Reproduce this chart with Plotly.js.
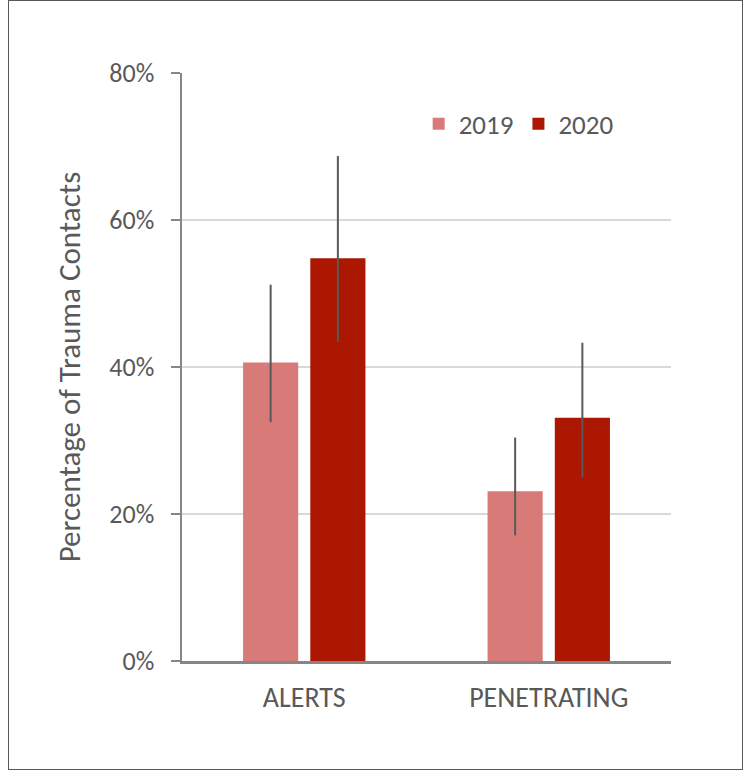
<!DOCTYPE html>
<html>
<head>
<meta charset="utf-8">
<script src="https://cdn.plot.ly/plotly-3.0.1.min.js"></script>
<style>
  body { margin: 0; background: #fff; }
  #frame { position: absolute; left: 8px; top: 0px; width: 733px; height: 768px; border: 1.5px solid #595959; }
  #chart { position: absolute; left: 0; top: 0; width: 750px; height: 772px; }
</style>
</head>
<body>
<div id="frame"></div>
<div id="chart"></div>
<script>
// categories and series (percent of trauma contacts)
let categories = ['ALERTS', 'PENETRATING'];
let years = ['2019', '2020'];

let val2019 = [40.6, 23.1];
let up2019 = [10.6, 7.3];
let down2019 = [8.1, 6.0];

let val2020 = [54.8, 33.1];
let up2020 = [13.9, 10.2];
let down2020 = [11.4, 8.1];

let colors = ['#D87B78', '#AB1700'];
let textColor = '#595959';
let fontFam = 'Calibri, Carlito, Lato, sans-serif';

let makeTrace = function(name, vals, up, down, color){
	return {
	  x: categories,
	  y: vals,
	  name: name,
	  type: 'bar',
	  marker: { color: color },
	  error_y: {
		type: 'data',
		symmetric: false,
		array: up,
		arrayminus: down,
		color: '#595959',
		thickness: 2,
		width: 0
	  },
	  hoverinfo: 'none'
	};
}

let data = [
	makeTrace(years[0], val2019, up2019, down2019, colors[0]),
	makeTrace(years[1], val2020, up2020, down2020, colors[1])
];

let layout = {
  width: 750,
  height: 772,
  margin: { l: 182, r: 79, t: 73, b: 111 },
  paper_bgcolor: 'rgba(0,0,0,0)',
  plot_bgcolor: 'rgba(0,0,0,0)',
  font: { family: fontFam, color: textColor, size: 26 },
  barmode: 'group',
  bargap: 0.45,
  bargroupgap: 0.18,
  xaxis: {
	showline: true,
	linecolor: '#868686',
	linewidth: 2.5,
	ticks: '',
	ticklabelstandoff: 10,
	tickfont: { size: 28, color: textColor }
  },
  yaxis: {
	range: [0, 80],
	dtick: 20,
	ticksuffix: '%',
	showline: true,
	linecolor: '#868686',
	linewidth: 2.5,
	ticks: 'outside',
	ticklen: 9,
	tickwidth: 2.5,
	tickcolor: '#868686',
	ticklabelstandoff: 11,
	showgrid: true,
	gridcolor: '#D9D9D9',
	gridwidth: 1.5,
	zeroline: false,
	tickfont: { size: 26, color: textColor },
	title: { text: 'Percentage of Trauma Contacts', font: { size: 31, color: textColor }, standoff: 20 }
  },
  legend: {
	orientation: 'h',
	x: 0.484,
	xanchor: 'left',
	y: 0.913,
	yanchor: 'middle',
	font: { size: 27, color: textColor },
	bgcolor: 'rgba(0,0,0,0)'
  },
  showlegend: true
};

Plotly.newPlot('chart', data, layout, { displayModeBar: false, staticPlot: true });
</script>
</body>
</html>
